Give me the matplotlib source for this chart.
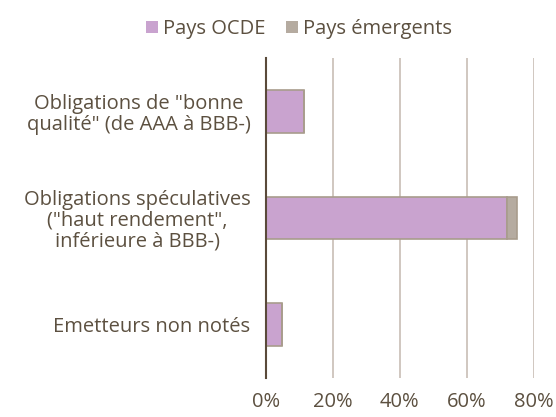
import matplotlib.pyplot as plt
import numpy as np

categories = ['Obligations de "bonne\nqualité" (de AAA à BBB-)',
              'Obligations spéculatives\n("haut rendement",\ninférieure à BBB-)',
              'Emetteurs non notés']
ocde = [11.3, 71.9, 4.8]
emergents = [0.0, 3.0, 0.0]
xticks = [0, 20, 40, 60, 80]

text_color = '#5c5040'
plt.rcParams['font.family'] = ['Open Sans', 'DejaVu Sans']

fig = plt.figure(figsize=(5.56, 4.17), dpi=100)
ax = fig.add_axes([0.478, 0.0935, 0.482, 0.7675])

y = np.arange(len(categories))
ax.barh(y, ocde, height=0.4, color='#c9a3cf', edgecolor='#a89c8c', linewidth=1.2,
        label='Pays OCDE', zorder=3)
ax.barh(y, emergents, left=ocde, height=0.4, color='#b5aba0', edgecolor='#a89c8c',
        linewidth=1.2, label='Pays émergents', zorder=3)

ax.set_ylim(2.5, -0.5)
ax.set_xlim(0, 80)
ax.set_xticks(xticks)
ax.set_xticklabels([f'{t}%' for t in xticks])
ax.set_yticks(y)
ax.set_yticklabels(categories, multialignment='center', linespacing=1.05)
ax.tick_params(axis='both', length=0, labelsize=14.5, colors=text_color)
ax.tick_params(axis='x', pad=10)
ax.tick_params(axis='y', pad=11)

for s in ['top', 'right', 'bottom']:
    ax.spines[s].set_visible(False)
ax.spines['left'].set_color('#5a4a3a')
ax.spines['left'].set_linewidth(1.5)
ax.spines['left'].set_zorder(4)
ax.xaxis.grid(True, color='#c8beb5', linewidth=1.2, zorder=0)

leg = fig.legend(loc='center', bbox_to_anchor=(0.538, 0.93), ncol=2, frameon=False,
                 fontsize=14.5, handlelength=0.6, handleheight=0.6, handletextpad=0.25,
                 columnspacing=1.0, labelcolor=text_color)
for h in leg.legend_handles:
    h.set_edgecolor('none')

fig.savefig('out.png', dpi=100)
